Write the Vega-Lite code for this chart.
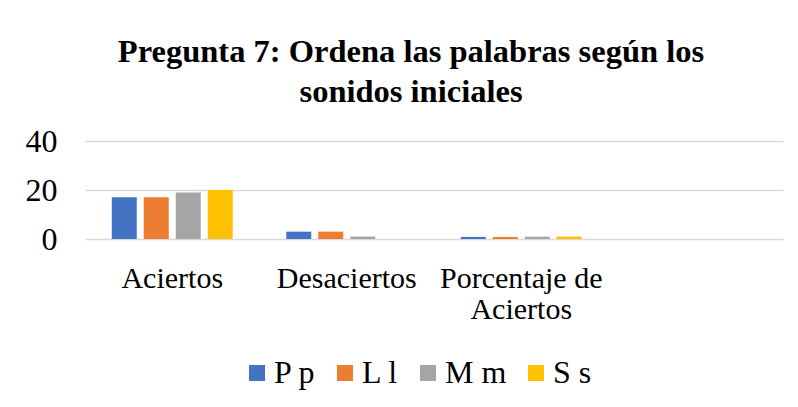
{
  "$schema": "https://vega.github.io/schema/vega-lite/v6.json",
  "width": 698,
  "height": 98,
  "autosize": {"type": "none"},
  "padding": {"left": 85, "top": 141, "right": 15, "bottom": 168},
  "background": "white",
  "config": {
    "font": "Liberation Serif, Times New Roman, serif",
    "view": {"stroke": null}
  },
  "title": {
    "text": ["Pregunta 7: Ordena las palabras según los", "sonidos iniciales"],
    "font": "Liberation Serif, Times New Roman, serif",
    "fontSize": 32.5,
    "fontWeight": "bold",
    "color": "#000000",
    "anchor": "middle",
    "dx": -23,
    "offset": 17,
    "lineHeight": 40
  },
  "data": {
    "values": [
      {"categoria": "Aciertos", "serie": "P p", "valor": 17},
      {"categoria": "Aciertos", "serie": "L l", "valor": 17},
      {"categoria": "Aciertos", "serie": "M m", "valor": 19},
      {"categoria": "Aciertos", "serie": "S s", "valor": 20},
      {"categoria": "Desaciertos", "serie": "P p", "valor": 3},
      {"categoria": "Desaciertos", "serie": "L l", "valor": 3},
      {"categoria": "Desaciertos", "serie": "M m", "valor": 1},
      {"categoria": "Desaciertos", "serie": "S s", "valor": 0},
      {"categoria": "Porcentaje de Aciertos", "serie": "P p", "valor": 0.85},
      {"categoria": "Porcentaje de Aciertos", "serie": "L l", "valor": 0.85},
      {"categoria": "Porcentaje de Aciertos", "serie": "M m", "valor": 0.95},
      {"categoria": "Porcentaje de Aciertos", "serie": "S s", "valor": 1}
    ]
  },
  "mark": {"type": "bar"},
  "encoding": {
    "x": {
      "field": "categoria",
      "type": "nominal",
      "sort": null,
      "scale": {"domain": ["Aciertos", "Desaciertos", "Porcentaje de Aciertos", " "], "paddingInner": 0.307, "paddingOuter": 0.1535},
      "axis": {
        "title": null,
        "labelAngle": 0,
        "labelFont": "Liberation Serif, Times New Roman, serif",
        "labelFontSize": 30,
        "labelColor": "#000000",
        "labelPadding": 24,
        "labelLineHeight": 31,
        "labelExpr": "datum.label == 'Porcentaje de Aciertos' ? ['Porcentaje de', 'Aciertos'] : datum.label",
        "ticks": false,
        "domain": false,
        "labelLimit": 0
      }
    },
    "xOffset": {
      "field": "serie",
      "type": "nominal",
      "sort": ["P p", "L l", "M m", "S s"],
      "scale": {"paddingInner": 0.219, "paddingOuter": 0}
    },
    "y": {
      "field": "valor",
      "type": "quantitative",
      "scale": {"domain": [0, 40]},
      "axis": {
        "title": null,
        "values": [0, 20, 40],
        "labelFont": "Liberation Serif, Times New Roman, serif",
        "labelFontSize": 32,
        "labelColor": "#000000",
        "labelPadding": 28,
        "ticks": false,
        "domain": false,
        "grid": true,
        "gridColor": "#d9d9d9",
        "gridWidth": 1.5
      }
    },
    "color": {
      "field": "serie",
      "type": "nominal",
      "sort": ["P p", "L l", "M m", "S s"],
      "scale": {"domain": ["P p", "L l", "M m", "S s"], "range": ["#4472C4", "#ED7D31", "#A5A5A5", "#FFC000"]},
      "legend": {
        "title": null,
        "orient": "none",
        "direction": "horizontal",
        "legendX": 156,
        "legendY": 216,
        "padding": 0,
        "symbolType": "square",
        "symbolSize": 256,
        "symbolStrokeWidth": 0,
        "symbolOpacity": 1,
        "labelFont": "Liberation Serif, Times New Roman, serif",
        "labelFontSize": 32,
        "labelColor": "#000000",
        "labelOffset": 1,
        "columnPadding": 13,
        "labelLimit": 0
      }
    }
  }
}
